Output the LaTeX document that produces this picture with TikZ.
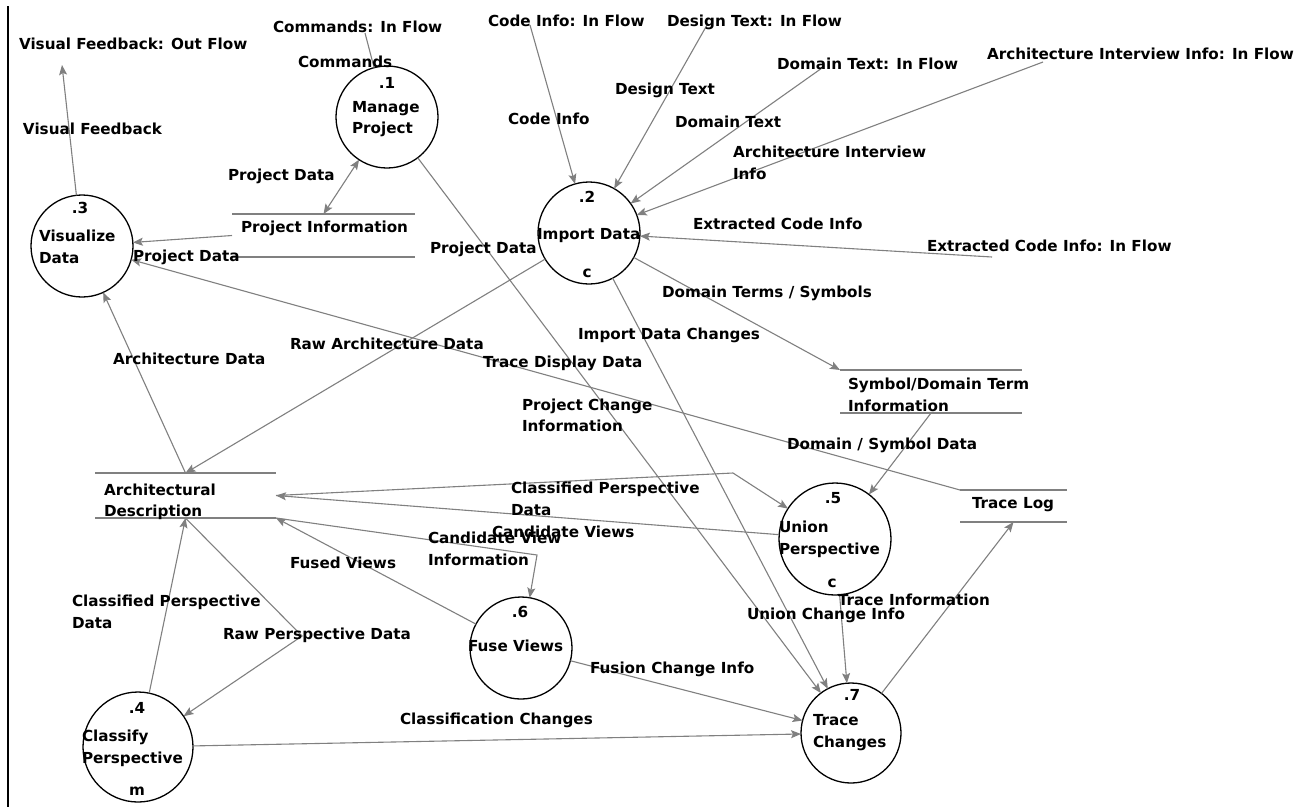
\documentclass[tikz,border=0pt]{standalone}
\usepackage{fontspec}
\setmainfont{DejaVu Sans}
\usetikzlibrary{arrows.meta}
\definecolor{flowgray}{RGB}{128,128,128}
\begin{document}
\begin{tikzpicture}[x=1pt,y=-1pt,
  lbl/.style={font={\fontsize{15.2}{21.5}\selectfont\bfseries}, inner sep=0pt, outer sep=0pt,
              anchor=base west, align=left, text=black},
  num/.style={lbl, anchor=base, align=center},
  proc/.style={circle, draw=black, line width=1.3pt, inner sep=0pt, outer sep=0pt, minimum size=#1},
  store/.style={rectangle, draw=none, inner sep=0pt, outer sep=0pt},
  storeline/.style={draw=flowgray, line width=1.5pt},
  flow/.style={draw=flowgray, line width=1.1pt,
               arrows={-Stealth[length=10pt,width=8pt,inset=2pt,flowgray]}},
  flowline/.style={draw=flowgray, line width=1.1pt},
  twoway/.style={draw=flowgray, line width=1.1pt,
               arrows={Stealth[length=10pt,width=8pt,inset=2pt,flowgray]-Stealth[length=10pt,width=8pt,inset=2pt,flowgray]}}
]
\useasboundingbox[fill=white] (0,0) rectangle (1308,807);

% left margin rule
\draw[line width=2pt] (8,6) -- (8,807);

% ---------- processes ----------
% (multi-line labels are placed by the baseline of their last line)
\node[proc=102pt] (p1) at (387,117) {};
\node[proc=102pt] (p2) at (589,233) {};
\node[proc=102pt] (p3) at (82,246) {};
\node[proc=110pt] (p4) at (138,747) {};
\node[proc=112pt] (p5) at (835,539) {};
\node[proc=102pt] (p6) at (521,648) {};
\node[proc=100pt] (p7) at (851,733) {};

\node[num] (n1) at (387,88) {.1};
\node[lbl] (l1) at (352,133.5) {Manage\\Project};
\node[num] (n2) at (587,202) {.2};
\node[lbl] (l2) at (537,239) {Import Data};
\node[num] (c2) at (587,277) {c};
\node[num] (n3) at (80,213) {.3};
\node[lbl] (l3) at (39,263) {Visualize\\Data};
\node[num] (n4) at (137,713) {.4};
\node[lbl] (l4) at (82,763) {Classify\\Perspective};
\node[num] (m4) at (137,795) {m};
\node[num] (n5) at (833,503) {.5};
\node[lbl] (l5) at (779,554) {Union\\Perspective};
\node[num] (c5) at (832,587) {c};
\node[num] (n6) at (520,617) {.6};
\node[lbl] (l6) at (468,651.5) {Fuse Views};
\node[num] (n7) at (852,700) {.7};
\node[lbl] (l7) at (813,747) {Trace\\Changes};

% ---------- data stores ----------
\node[store, minimum width=183pt, minimum height=43pt] (pinfo) at (323.5,235.5) {};
\node[store, minimum width=181pt, minimum height=45pt] (adesc) at (185.5,495.5) {};
\node[store, minimum width=182pt, minimum height=43pt] (symst) at (931,391.5) {};
\node[store, minimum width=107pt, minimum height=32pt] (tlog) at (1013.5,506) {};
\foreach \s in {pinfo,adesc,symst,tlog}{
  \draw[storeline] (\s.north west) -- (\s.north east) (\s.south west) -- (\s.south east);
}
\node[lbl] (spinfo) at (241,232) {Project Information};
\node[lbl] (sadesc) at (104,516.5) {Architectural\\Description};
\node[lbl] (ssym) at (848,411) {Symbol/Domain Term\\Information};
\node[lbl] (stlog) at (972,508) {Trace Log};

% ---------- external end points ----------
\coordinate (vfend) at (62,65);
\coordinate (cmdsrc) at (365,33);
\coordinate (codesrc) at (530,25);
\coordinate (designsrc) at (707,25);
\coordinate (domainsrc) at (822,68);
\coordinate (archsrc) at (1043,62);
\coordinate (extsrc) at (992,257);

% bend points
\coordinate (cpbend) at (733,473);
\coordinate (cvbend) at (537,555);
\coordinate (rpbend) at (302,636);

% ---------- flows ----------
\draw[flowline] (cmdsrc) -- (p1);
\draw[flow] (p3) -- (vfend);
\draw[twoway] (pinfo.north) -- (p1);
\draw[flow] (pinfo.west) -- (p3);
\draw[flow] (codesrc) -- (p2);
\draw[flow] (designsrc) -- (p2);
\draw[flow] (domainsrc) -- (p2);
\draw[flow] (archsrc) -- (p2);
\draw[flow] (extsrc) -- (p2);
\draw[flow] (p2) -- (symst.north west);
\draw[flow] (p2) -- (adesc.north);
\draw[flow] (adesc.north) -- (p3);
\draw[flow] (tlog.north west) -- (p3);
\draw[flow] (p1) -- (p7);
\draw[flow] (p2) -- (p7);
\draw[flow] (symst.south) -- (p5);
\draw[flow] (adesc.east) -- (cpbend) -- (p5);
\draw[flow] (p5) -- (adesc.east);
\draw[flow] (adesc.south east) -- (cvbend) -- (p6);
\draw[flow] (p6) -- (adesc.south east);
\draw[flow] (p4) -- (adesc.south);
\draw[flow] (adesc.south) -- (rpbend) -- (p4);
\draw[flow] (p6) -- (p7);
\draw[flow] (p4) -- (p7);
\draw[flow] (p5) -- (p7);
\draw[flow] (p7) -- (tlog.south);

% ---------- flow labels ----------
\node[lbl] (tcmdin) at (273,32) {Commands: In Flow};
\node[lbl] (tvfout) at (19,49) {Visual Feedback: Out Flow};
\node[lbl] (tcmd) at (298,67) {Commands};
\node[lbl] (tcodein) at (488,26) {Code Info: In Flow};
\node[lbl] (tdesignin) at (667,26) {Design Text: In Flow};
\node[lbl] (tdomainin) at (777,69) {Domain Text: In Flow};
\node[lbl] (tarchin) at (987,59) {Architecture Interview Info: In Flow};
\node[lbl] (tdesign) at (615,94) {Design Text};
\node[lbl] (tcode) at (508,124) {Code Info};
\node[lbl] (tdomain) at (675,127) {Domain Text};
\node[lbl] (tvf) at (23,134) {Visual Feedback};
\node[lbl] (tarch) at (733,179) {Architecture Interview\\Info};
\node[lbl] (tpd1) at (228,180) {Project Data};
\node[lbl] (text) at (693,229) {Extracted Code Info};
\node[lbl] (textin) at (927,251) {Extracted Code Info: In Flow};
\node[lbl] (tpd2) at (430,253) {Project Data};
\node[lbl] (tpd3) at (133,261) {Project Data};
\node[lbl] (tdts) at (662,297) {Domain Terms / Symbols};
\node[lbl] (tidc) at (578,339) {Import Data Changes};
\node[lbl] (trad) at (290,349) {Raw Architecture Data};
\node[lbl] (tad) at (113,364) {Architecture Data};
\node[lbl] (ttdd) at (483,367) {Trace Display Data};
\node[lbl] (tpci) at (522,431.5) {Project Change\\Information};
\node[lbl] (tdsd) at (787,449) {Domain / Symbol Data};
\node[lbl] (tcpd1) at (511,515) {Classified Perspective\\Data};
\node[lbl] (tcv) at (492,537) {Candidate Views};
\node[lbl] (tcvi) at (428,565) {Candidate View\\Information};
\node[lbl] (tfv) at (290,568) {Fused Views};
\node[lbl] (tti) at (838,605) {Trace Information};
\node[lbl] (tuci) at (747,619) {Union Change Info};
\node[lbl] (tcpd2) at (72,628) {Classified Perspective\\Data};
\node[lbl] (trpd) at (223,639) {Raw Perspective Data};
\node[lbl] (tfci) at (590,673) {Fusion Change Info};
\node[lbl] (tcc) at (400,724) {Classification Changes};
\end{tikzpicture}
\end{document}
